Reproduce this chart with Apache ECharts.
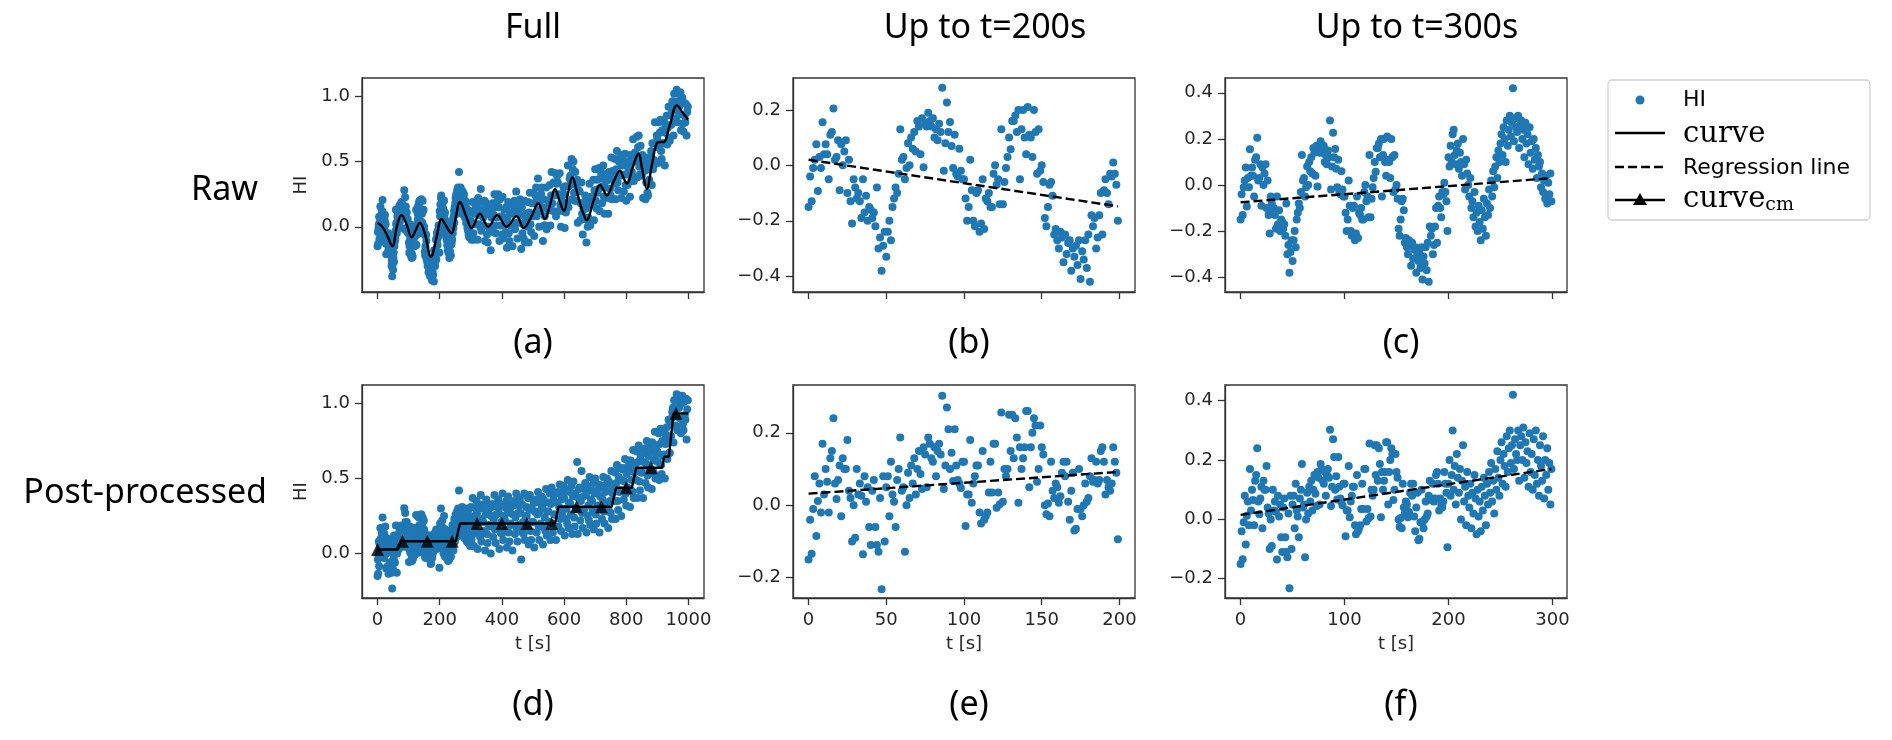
<!DOCTYPE html>
<html><head><meta charset="utf-8">
<script src="https://cdn.jsdelivr.net/npm/echarts@6/dist/echarts.min.js"></script>
<style>html,body{margin:0;padding:0;background:#fff}#c{width:1892px;height:740px}</style>
</head><body><div id="c"></div>
<script>
// ---------- data ----------
// raw HI, one point per second, t = 0..299
const rawHead = [
-0.15,-0.04,-0.13,-0.01,0.02,0.076,-0.093,0.03,-0.01,0.155,
0.04,0.076,0.04,-0.05,0.11,0.12,0.205,0.02,0.03,0.09,
-0.09,0.076,0,0.05,0.09,-0.1,0.02,-0.13,-0.21,-0.05,
-0.08,-0.12,-0.1,-0.13,-0.19,-0.05,-0.17,-0.11,-0.2,-0.15,
-0.16,-0.19,-0.17,-0.22,-0.08,-0.3,-0.26,-0.38,-0.29,-0.24,
-0.33,-0.24,-0.2,-0.27,-0.15,-0.12,-0.08,-0.1,-0.03,0.13,
0.02,0.03,-0.05,-0.01,0.08,0,0.1,0.06,0.12,0.05,
0.16,0.14,0.04,0.17,-0.007,0.15,0.14,0.19,0.16,0.14,
0.17,0.1,0.13,0.09,0.15,0.12,0.28,-0.02,0.08,0.227,
0.12,0.156,0.07,-0.01,0.11,-0.03,-0.04,0.06,-0.02,-0.05,
-0.05,-0.12,-0.2,-0.15,0.02,-0.09,-0.2,-0.22,-0.1,-0.09,
-0.24,-0.21,-0.05,-0.23,-0.12,-0.13,-0.1,-0.15,-0.15,-0.03,
0,-0.07,-0.05,-0.14,0.13,-0.14,-0.06,-0.01,0.03,0.1,
0.058,0.16,0.16,0.18,0.12,0.2,-0.05,0.13,0.2,0.1,
0.04,0.21,0.11,0.1,0.03,0.2,0.12,-0.03,0.13,-0.02,
0,-0.06,-0.19,-0.22,-0.15,-0.07,-0.06,-0.11,-0.25,-0.23,
-0.27,-0.3,-0.24,-0.26,-0.35,-0.25,-0.32,-0.28,-0.27,-0.38,
-0.3,-0.33,-0.29,-0.36,-0.27,-0.41,-0.31,-0.34,-0.27,-0.37,
-0.25,-0.42,-0.18,-0.22,-0.19,-0.3,-0.26,-0.18,-0.1,-0.25,
-0.09,-0.05,-0.1,-0.14,-0.03,-0.04,0.01,-0.03,-0.07,-0.2,
0.12,0.08,0.17,0.1,0.22,0.24,0.13,0.09,0.15,0.18,
0.07,0.14,0.1,0.04,0.2,0.09,-0.02,0.11,0.05,0,
-0.05,0.03,-0.1,-0.07,-0.14,-0.03,-0.18,-0.12,-0.2,-0.09,
-0.16,-0.24,-0.11,-0.19,-0.06,-0.14,-0.22,-0.08,-0.13,-0.02,
-0.1,0.02,-0.05,0.06,-0.01,0.08,0.12,0.03,0.15,0.1,
0.18,0.22,0.13,0.25,0.2,0.1,0.28,0.17,0.24,0.3,
0.21,0.27,0.42,0.19,0.29,0.25,0.23,0.3,0.16,0.26,
0.28,0.2,0.24,0.12,0.27,0.18,0.22,0.09,0.25,0.14,
0.19,0.07,0.2,0.11,0.16,0.03,0.13,0.08,0.1,-0.01,
0.05,-0.03,0.02,-0.06,0.04,-0.08,0.01,-0.04,0.05,-0.07];
// raw HI, one point every 2 s, t = 300..998
const rawTail = [
0.12,-0.1,0.03,0.19,-0.05, -0.1,0.1,0.02,0.15,0.2, 0.16,-0.1,0.22,0.02,0.09, 0,0.29,-0.03,0.13,0.19,
0.07,0.01,0.2,-0.11,0.12, 0.18,-0.06,-0.12,0.1,0, -0.01,0.15,-0.18,0.07,0.13, 0.18,-0.04,0.09,0.25,0.01,
-0.05,0.15,0.07,0.2,0.25, 0.15,-0.11,0.21,0.01,0.08, -0.06,0.23,-0.09,0.07,0.13, 0.02,-0.04,0.15,-0.16,0.07,
0.19,-0.05,-0.11,0.11,0.01, 0.02,0.18,-0.15,0.1,0.16, 0.2,-0.02,0.11,0.27,0.03, -0.09,0.11,0.03,0.16,0.21,
0.09,-0.17,0.15,-0.05,0.02, -0.09,0.2,-0.12,0.04,0.1, 0.06,0,0.19,-0.12,0.11, 0.26,0.02,-0.04,0.18,0.08,
0.1,0.26,-0.07,0.18,0.24, 0.3,0.08,0.21,0.37,0.13, 0,0.2,0.12,0.25,0.3, 0.15,-0.11,0.21,0.01,0.08,
0.01,0.3,-0.02,0.14,0.2, 0.19,0.13,0.32,0.01,0.24, 0.42,0.18,0.12,0.34,0.24, 0.25,0.41,0.08,0.33,0.39,
0.34,0.12,0.25,0.41,0.17, 0,0.2,0.12,0.25,0.3, 0.25,-0.01,0.31,0.11,0.18, 0.18,0.47,0.15,0.31,0.37,
0.39,0.33,0.52,0.21,0.44, 0.5,0.26,0.2,0.42,0.32, 0.2,0.36,0.03,0.28,0.34, 0.27,0.05,0.18,0.34,0.1,
-0.06,0.14,0.06,0.19,0.24, 0.14,-0.12,0.2,0,0.07, 0.04,0.33,0.01,0.17,0.23, 0.23,0.17,0.36,0.05,0.28,
0.44,0.2,0.14,0.36,0.26, 0.29,0.45,0.12,0.37,0.43, 0.4,0.18,0.31,0.47,0.23, 0.1,0.3,0.22,0.35,0.4,
0.36,0.1,0.42,0.22,0.29, 0.24,0.53,0.21,0.37,0.43, 0.39,0.33,0.52,0.21,0.44, 0.58,0.34,0.28,0.5,0.4,
0.39,0.55,0.22,0.47,0.53, 0.49,0.27,0.4,0.56,0.32, 0.2,0.4,0.32,0.45,0.5, 0.49,0.23,0.55,0.35,0.42,
0.38,0.67,0.35,0.51,0.57, 0.56,0.5,0.69,0.38,0.61, 0.7,0.46,0.4,0.62,0.52, 0.39,0.55,0.22,0.47,0.53,
0.43,0.21,0.34,0.5,0.26, 0.24,0.44,0.36,0.49,0.54, 0.58,0.32,0.64,0.44,0.51, 0.51,0.8,0.48,0.64,0.7,
0.67,0.61,0.8,0.49,0.72, 0.82,0.58,0.52,0.74,0.64, 0.64,0.8,0.47,0.72,0.78, 0.85,0.63,0.76,0.92,0.68,
0.66,0.86,0.78,0.91,0.96, 0.96,0.7,1.02,0.82,0.89, 0.83,1.05,0.8,0.96,1.02, 0.92,0.86,1.03,0.74,0.97,
0.99,0.79,0.73,0.95,0.85, 0.8,0.94,0.7,0.88,0.92];
// post-processed HI, t = 0..299
const postHead = [
-0.15,-0.04,-0.134,-0.01,0.08,-0.085,0.012,0.06,-0.02,0.17,
0.03,0.1,0.065,-0.02,0.13,0.15,0.24,0.06,0.017,0.07,
0.11,-0.03,0.13,0.1,0.1,0.18,0.04,0.02,-0.1,0,
-0.09,0.1,0.03,0.06,0.026,-0.135,0.08,0.01,0.05,-0.06,
-0.11,0.04,0.07,-0.06,-0.11,-0.128,0.02,-0.232,0.08,-0.1,
0.05,0.08,-0.03,0.12,0.03,0.01,-0.06,0.07,0.1,0.187,
0.04,0.05,-0.128,0,0.09,0.02,0.11,0.06,0.13,0.03,
0.1,0.15,0.086,0.045,0.16,0.14,0.05,0.187,0.17,0.13,
0.12,0.16,0.08,0.15,0.17,0.14,0.302,0.045,0.11,0.27,
0.21,0.1,0.145,0.067,0.21,0.11,0.07,0.06,0.048,0.12,
0.12,-0.057,0.03,0.03,0.18,0.007,0.06,0.08,0.11,0.11,
-0.02,-0.05,0.15,-0.04,-0.03,-0.02,0.035,0.12,0.035,0.17,
0.17,-0.007,0.035,0.003,0.256,0.01,0.1,0.08,0.1,0.25,
0.15,0.25,0.13,0.24,0.187,0.007,0.16,0.1,0.13,0.16,
0.26,0.26,0.05,0.16,0.2,0.24,0.22,0.065,0.1,0.22,
0.16,0.14,0,-0.025,0.005,-0.03,0.12,0.04,0.02,0.06,
0.05,0.007,0.025,0.09,0.12,0.08,0.12,0.01,-0.04,0.04,
0.09,-0.07,-0.065,-0.01,0.1,-0.01,-0.03,0,0.06,0.01,
0.02,0.08,0.13,0.065,0.07,0.12,0.06,0.07,0.15,0.16,
0.12,0.03,0.07,0.05,0.04,0.06,0.16,0.12,0.09,-0.094,
0.12,0.2,0.08,0.15,0.3,0.1,0.18,0.05,0.22,0.14,
0.09,0.17,0,0.13,0.25,0.06,0.11,-0.02,0.16,0.08,
0.04,0.12,-0.03,0.09,0.02,0.15,0.07,-0.05,0.1,0.01,
0.06,-0.04,0.11,0.03,0.14,0.08,-0.02,0.12,0.05,0.16,
0.09,0.19,0.06,0.13,0.02,0.17,0.1,0.23,0.14,0.08,
0.2,0.26,0.12,0.22,0.18,0.11,0.28,0.16,0.24,0.3,
0.19,0.25,0.42,0.17,0.27,0.22,0.2,0.3,0.13,0.25,
0.28,0.2,0.31,0.14,0.26,0.19,0.23,0.11,0.29,0.16,
0.22,0.1,0.27,0.15,0.3,0.12,0.2,0.08,0.25,0.18,
0.13,0.28,0.07,0.2,0.15,0.24,0.1,0.19,0.05,0.17];
// post-processed HI, one point every 2 s, t = 300..998
const postTail = [
0.31,0.09,0.21,0.37,0.13, 0.05,0.25,0.17,0.3,0.35, 0.27,0.03,0.33,0.14,0.21, 0.11,0.39,0.08,0.23,0.3,
0.21,0.15,0.33,0.02,0.26, 0.36,0.13,0.07,0.28,0.19, 0.18,0.32,0.0,0.25,0.31, 0.33,0.11,0.23,0.39,0.16,
0.07,0.26,0.18,0.31,0.36, 0.27,0.03,0.33,0.14,0.21, 0.13,0.4,0.09,0.25,0.31, 0.22,0.16,0.35,0.04,0.27,
0.38,0.14,0.08,0.3,0.2, 0.19,0.33,0.02,0.26,0.32, 0.35,0.13,0.24,0.4,0.17, 0.08,0.27,0.19,0.32,0.37,
0.27,-0.04,0.33,0.14,0.21, 0.13,0.4,0.09,0.25,0.31, 0.25,0.18,0.37,0.06,0.29, 0.39,0.15,0.09,0.31,0.21,
0.21,0.35,0.04,0.28,0.34, 0.36,0.14,0.26,0.41,0.18, 0.09,0.28,0.2,0.33,0.38, 0.31,0.06,0.36,0.17,0.24,
0.15,0.43,0.12,0.28,0.34, 0.28,0.21,0.4,0.09,0.33, 0.44,0.2,0.14,0.36,0.26, 0.26,0.4,0.09,0.34,0.4,
0.41,0.18,0.31,0.46,0.23, 0.15,0.36,0.27,0.41,0.45, 0.37,0.12,0.43,0.23,0.3, 0.2,0.49,0.17,0.34,0.41,
0.33,0.26,0.45,0.13,0.38, 0.48,0.24,0.18,0.4,0.3, 0.3,0.61,0.13,0.37,0.43, 0.44,0.22,0.35,0.55,0.27,
0.17,0.38,0.29,0.43,0.47, 0.39,0.14,0.45,0.25,0.32, 0.22,0.51,0.19,0.36,0.42, 0.35,0.28,0.47,0.16,0.4,
0.5,0.26,0.2,0.42,0.32, 0.31,0.46,0.14,0.38,0.44, 0.45,0.23,0.36,0.51,0.28, 0.2,0.41,0.32,0.46,0.5,
0.42,0.17,0.48,0.28,0.35, 0.27,0.55,0.23,0.4,0.46, 0.42,0.35,0.54,0.23,0.47, 0.59,0.35,0.29,0.51,0.41,
0.42,0.57,0.25,0.49,0.56, 0.57,0.36,0.48,0.63,0.4, 0.32,0.53,0.44,0.58,0.62, 0.56,0.31,0.62,0.42,0.49,
0.41,0.69,0.37,0.54,0.6, 0.56,0.49,0.68,0.37,0.61, 0.72,0.48,0.42,0.64,0.54, 0.54,0.69,0.37,0.61,0.67,
0.7,0.47,0.6,0.75,0.52, 0.44,0.65,0.56,0.7,0.74, 0.68,0.43,0.74,0.55,0.62, 0.53,0.81,0.5,0.66,0.72,
0.68,0.61,0.8,0.49,0.73, 0.83,0.59,0.53,0.75,0.65, 0.66,0.8,0.5,0.73,0.79, 0.84,0.63,0.75,0.89,0.67,
0.67,0.86,0.78,0.9,0.94, 0.97,0.74,1.02,0.85,0.92, 0.85,1.06,0.82,0.97,1.02, 0.97,0.9,1.05,0.8,1.0,
1.05,0.86,0.82,1.01,0.92, 0.89,1.03,0.76,0.96,1.02];
// smooth "curve" of the raw HI (panel a)
const curveT = [0,15,30,48,62,77,93,110,122,136,152,172,190,206,222,238,250,265,285,303,329,356,385,415,447,470,495,517,538,555,571,585,600,612,627,640,651,662,672,695,716,727,737,760,780,790,802,820,839,852,866,882,898,910,920,940,963,980,999];
const curveV = [0.03,0,-0.06,-0.15,0,0.09,0.02,-0.08,-0.03,0.03,-0.05,-0.23,-0.08,0.06,0,-0.05,0.05,0.19,0.08,-0.01,0.1,0,0.09,0,0.08,-0.01,0.08,0.18,0.06,0.17,0.29,0.2,0.12,0.25,0.38,0.28,0.18,0.1,0.05,0.2,0.32,0.28,0.24,0.35,0.43,0.38,0.33,0.45,0.56,0.43,0.29,0.47,0.64,0.65,0.65,0.78,0.93,0.88,0.82];
// step "curve" of the post-processed HI (panel d)
const stepT = [0,66,75,252,265,571,582,753,767,818,832,915,922,937,952,1000];
const stepV = [0.027,0.027,0.082,0.082,0.2,0.2,0.311,0.311,0.438,0.438,0.571,0.571,0.644,0.644,0.933,0.933];
// curve_cm markers
const cmT = [0,80,160,240,320,400,480,560,640,720,800,880,960];
const cmV = [0.027,0.082,0.082,0.082,0.2,0.2,0.2,0.2,0.311,0.311,0.438,0.571,0.933];
// regression lines (end points)
const regBT = [0,199], regBV = [0.02,-0.148];
const regCT = [0,299], regCV = [-0.075,0.03];
const regET = [0,199], regEV = [0.032,0.092];
const regFT = [0,299], regFV = [0.015,0.17];
// texts and ticks
const colTitles = ['Full','Up to t=200s','Up to t=300s'];
const rowTitles = ['Raw','Post-processed'];
const panelLabels = ['(a)','(b)','(c)','(d)','(e)','(f)'];
const xTicks = [[0,200,400,600,800,1000],[0,50,100,150,200],[0,100,200,300]];
const yTicks = [[0,0.5,1.0],[-0.4,-0.2,0,0.2],[-0.4,-0.2,0,0.2,0.4],[0,0.5,1.0],[-0.2,0,0.2],[-0.2,0,0.2,0.4]];
const legendNames = ['HI','curve','Regression line','curve'];

// ---------- layout ----------
const L = [362, 793, 1225], W = 342;
const T = [78, 385], H = [214, 213];
const titleShift = [0, 21, 21];
const xRange = [[-50,1050],[-10,210],[-15,314]];
const yRange = [[-0.50,1.14],[-0.457,0.315],[-0.464,0.464],[-0.296,1.122],[-0.256,0.332],[-0.265,0.453]];
const BLUE = '#1f77b4', INK = '#262626', FR = '#333';
const SANS = 'DejaVu Sans';

const grids = [], xAxes = [], yAxes = [], series = [];
const fmtY = v => (v < 0 ? '\u2212' : '') + Math.abs(v).toFixed(1);
const fmtX = v => String(v);
for (let r = 0; r < 2; r++) for (let c = 0; c < 3; c++) {
  const i = r * 3 + c;
  grids.push({left: L[c], top: T[r], width: W, height: H[r], show: true, borderColor: FR, borderWidth: 1.3, containLabel: false});
  xAxes.push({type: 'value', gridIndex: i, min: xRange[c][0], max: xRange[c][1],
    axisLine: {show: true, onZero: false, lineStyle: {color: FR, width: 1.3}},
    splitLine: {show: false},
    axisTick: {show: true, length: 7, lineStyle: {color: FR, width: 1.3}, customValues: xTicks[c]},
    axisLabel: {show: r === 1, customValues: xTicks[c], margin: 13, fontSize: 18, color: INK, fontFamily: SANS, formatter: fmtX},
    name: r === 1 ? 't [s]' : '', nameLocation: 'middle', nameGap: 37,
    nameTextStyle: {fontSize: 18, color: INK, fontFamily: SANS}});
  yAxes.push({type: 'value', gridIndex: i, min: yRange[i][0], max: yRange[i][1],
    axisLine: {show: true, onZero: false, lineStyle: {color: FR, width: 1.3}},
    splitLine: {show: false},
    axisTick: {show: true, length: 7, lineStyle: {color: FR, width: 1.3}, customValues: yTicks[i]},
    axisLabel: {show: true, customValues: yTicks[i], margin: 12, fontSize: 18, color: INK, fontFamily: SANS, formatter: fmtY},
    name: c === 0 ? 'HI' : '', nameLocation: 'middle', nameGap: 52, nameRotate: 90,
    nameTextStyle: {fontSize: 18, color: INK, fontFamily: SANS}});
}

const ptsHead = (arr, n) => arr.slice(0, n).map((v, k) => [k, v]);
const ptsFull = (head, tail) => ptsHead(head, head.length).concat(tail.map((v, k) => [300 + 2 * k, v]));
const scatterData = [
  ptsFull(rawHead, rawTail), ptsHead(rawHead, 200), ptsHead(rawHead, 300),
  ptsFull(postHead, postTail), ptsHead(postHead, 200), ptsHead(postHead, 300)];
scatterData.forEach((d, i) => series.push({type: 'scatter', name: 'HI', xAxisIndex: i, yAxisIndex: i,
  data: d, symbolSize: 8, itemStyle: {color: BLUE, opacity: 1}, z: 2, silent: true}));

const zip = (a, b) => a.map((t, k) => [t, b[k]]);
series.push({type: 'line', name: 'curve', xAxisIndex: 0, yAxisIndex: 0, data: zip(curveT, curveV),
  smooth: 0.4, showSymbol: false, symbol: 'none', lineStyle: {color: '#000', width: 2.4}, z: 5});
series.push({type: 'line', name: 'curve_cm', xAxisIndex: 3, yAxisIndex: 3, data: zip(stepT, stepV),
  showSymbol: false, symbol: 'none', lineStyle: {color: '#000', width: 2.4}, z: 5});
series.push({type: 'scatter', name: 'curve_cm', xAxisIndex: 3, yAxisIndex: 3, data: zip(cmT, cmV),
  symbol: 'triangle', symbolSize: 13, itemStyle: {color: '#000'}, z: 6});
[[1, regBT, regBV], [2, regCT, regCV], [4, regET, regEV], [5, regFT, regFV]].forEach(([i, t, v]) =>
  series.push({type: 'line', name: 'Regression line', xAxisIndex: i, yAxisIndex: i, data: zip(t, v),
    showSymbol: false, symbol: 'none', lineStyle: {color: '#000', width: 2.4, type: [9, 4]}, z: 5}));

// ---------- texts ----------
const TF = '34px "Noto Sans"';
const graphic = [];
colTitles.forEach((s, c) => graphic.push({type: 'text', x: L[c] + W / 2 + titleShift[c], y: 28,
  style: {text: s, font: TF, fill: '#000', align: 'center', verticalAlign: 'middle'}}));
graphic.push({type: 'text', x: 258, y: 190, style: {text: rowTitles[0], font: TF, fill: '#000', align: 'right', verticalAlign: 'middle'}});
graphic.push({type: 'text', x: 267, y: 493, style: {text: rowTitles[1], font: TF, fill: '#000', align: 'right', verticalAlign: 'middle'}});
panelLabels.forEach((s, i) => {
  const r = Math.floor(i / 3), c = i % 3;
  graphic.push({type: 'text', x: L[c] + W / 2 + (c === 0 ? 0 : 5), y: r === 0 ? 343 : 705,
    style: {text: s, font: TF, fill: '#000', align: 'center', verticalAlign: 'middle'}});
});
// legend
const lx = 1608, ly = 80;
graphic.push({type: 'rect', shape: {x: lx, y: ly, width: 262, height: 140, r: 4}, style: {fill: '#fff', stroke: '#d0d0d0', lineWidth: 1.3}});
graphic.push({type: 'circle', shape: {cx: 1640, cy: 100, r: 4.5}, style: {fill: BLUE}});
graphic.push({type: 'line', shape: {x1: 1615, y1: 133, x2: 1665, y2: 133}, style: {stroke: '#000', lineWidth: 2.4}});
graphic.push({type: 'line', shape: {x1: 1615, y1: 167, x2: 1665, y2: 167}, style: {stroke: '#000', lineWidth: 2.4, lineDash: [9, 4]}});
graphic.push({type: 'line', shape: {x1: 1615, y1: 200, x2: 1665, y2: 200}, style: {stroke: '#000', lineWidth: 2.4}});
graphic.push({type: 'polygon', shape: {points: [[1640, 193], [1647, 205], [1633, 205]]}, style: {fill: '#000'}});
graphic.push({type: 'text', x: 1683, y: 100, style: {text: legendNames[0], font: '22px "DejaVu Sans"', fill: '#000', verticalAlign: 'middle'}});
graphic.push({type: 'text', x: 1683, y: 134, style: {text: legendNames[1], font: '29px "DejaVu Serif"', fill: '#000', verticalAlign: 'middle'}});
graphic.push({type: 'text', x: 1683, y: 168, style: {text: legendNames[2], font: '22px "DejaVu Sans"', fill: '#000', verticalAlign: 'middle'}});
graphic.push({type: 'text', x: 1683, y: 199, style: {text: '{a|' + legendNames[3] + '}{b|cm}', verticalAlign: 'middle',
  rich: {a: {font: '29px "DejaVu Serif"', fill: '#000'}, b: {font: '19px "DejaVu Serif"', fill: '#000', verticalAlign: 'bottom', padding: [12, 0, 0, 0]}}}});

const chart = echarts.init(document.getElementById('c'), null, {renderer: 'canvas'});
chart.setOption({animation: false, backgroundColor: '#fff', grid: grids, xAxis: xAxes, yAxis: yAxes, series, graphic});
</script></body></html>
